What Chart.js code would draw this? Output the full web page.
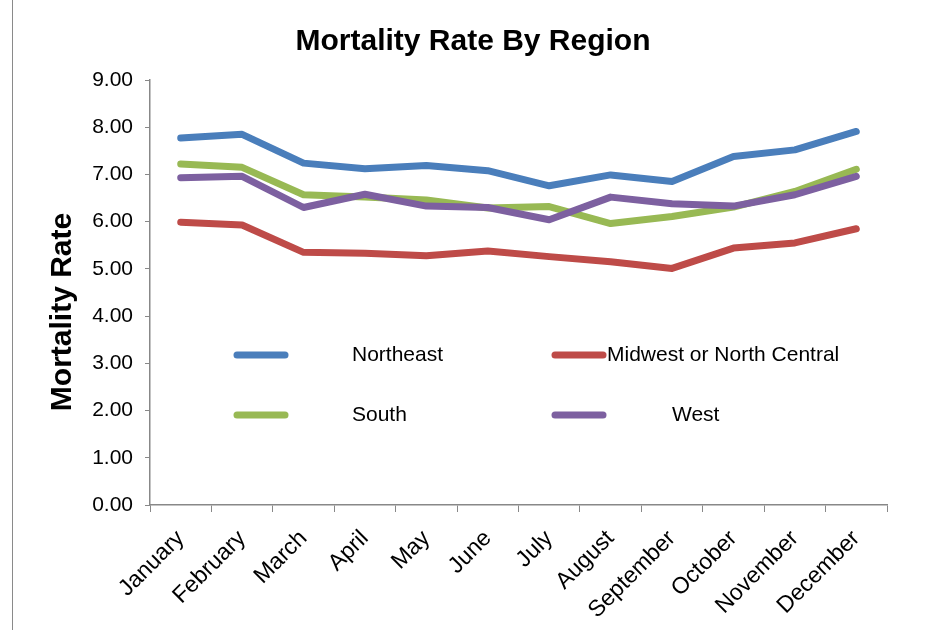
<!DOCTYPE html>
<html>
<head>
<meta charset="utf-8">
<script src="https://cdn.jsdelivr.net/npm/chart.js@4.4.0/dist/chart.umd.min.js"></script>
<style>
    body { margin: 0; background: #fff; }
    #wrap { position: relative; width: 933px; height: 630px; }
    #edge { position: absolute; left: 12px; top: 0; height: 630px; border-left: 1px solid #8a8a8a; }
</style>
</head>
<body>
<div id="wrap">
    <canvas id="mortalityChart" width="933" height="630"></canvas>
    <div id="edge"></div>
</div>
<script>
// data
const months = ['January', 'February', 'March', 'April', 'May', 'June',
                'July', 'August', 'September', 'October', 'November', 'December'];
const northeast = [7.77, 7.85, 7.24, 7.12, 7.19, 7.08, 6.76, 6.99, 6.85, 7.38, 7.52, 7.91];
const midwest   = [5.99, 5.93, 5.35, 5.33, 5.28, 5.38, 5.26, 5.15, 5.01, 5.44, 5.55, 5.85];
const south     = [7.22, 7.15, 6.57, 6.52, 6.46, 6.29, 6.32, 5.96, 6.11, 6.31, 6.64, 7.11];
const west      = [6.93, 6.96, 6.30, 6.58, 6.33, 6.30, 6.04, 6.52, 6.38, 6.33, 6.57, 6.96];
const regionNames = ['Northeast', 'Midwest or North Central', 'South', 'West'];
const regionColors = ['#4A7EBB', '#BE4B48', '#98B954', '#7D60A0'];
const yMin = 0;
const yMax = 9;
const yStep = 1;

const FONT = '"Liberation Sans", Arial, sans-serif';

// legend sits inside the plot, two rows of two
const legendSpots = [
    { lineX: 237, textX: 352, y: 355 },
    { lineX: 555, textX: 607, y: 355 },
    { lineX: 237, textX: 352, y: 415 },
    { lineX: 555, textX: 672, y: 415 }
];

const insideLegend = {
    id: 'insideLegend',
    afterDatasetsDraw(chart) {
        const ctx = chart.ctx;
        ctx.save();
        chart.data.datasets.forEach((ds, i) => {
            const spot = legendSpots[i];
            ctx.strokeStyle = ds.borderColor;
            ctx.lineWidth = 7;
            ctx.lineCap = 'round';
            ctx.beginPath();
            ctx.moveTo(spot.lineX, spot.y);
            ctx.lineTo(spot.lineX + 48, spot.y);
            ctx.stroke();
            ctx.fillStyle = '#000';
            ctx.font = '21px ' + FONT;
            ctx.textBaseline = 'middle';
            ctx.textAlign = 'left';
            ctx.fillText(ds.label, spot.textX, spot.y);
        });
        ctx.restore();
    }
};

// chart title and y axis title, placed by hand
const titles = {
    id: 'titles',
    afterDraw(chart) {
        const ctx = chart.ctx;
        ctx.save();
        ctx.fillStyle = '#000';
        ctx.textAlign = 'center';
        ctx.textBaseline = 'middle';
        ctx.font = 'bold 30px ' + FONT;
        ctx.fillText('Mortality Rate By Region', 473, 42);
        ctx.translate(63, 312);
        ctx.rotate(-Math.PI / 2);
        ctx.font = 'bold 30px ' + FONT;
        ctx.fillText('Mortality Rate', 0, 0);
        ctx.restore();
    }
};

const seriesData = [northeast, midwest, south, west];
const drawOrder = [3, 2, 1, 0];

const mortalityChart = new Chart(document.getElementById('mortalityChart').getContext('2d'), {
    type: 'line',
    data: {
        labels: months,
        datasets: seriesData.map((values, i) => ({
            label: regionNames[i],
            data: values,
            borderColor: regionColors[i],
            backgroundColor: regionColors[i],
            borderWidth: 7,
            borderCapStyle: 'round',
            borderJoinStyle: 'round',
            pointRadius: 0,
            tension: 0,
            order: drawOrder[i]
        }))
    },
    options: {
        responsive: false,
        animation: false,
        layout: {
            padding: { top: 80, left: 0, right: 46, bottom: 0 }
        },
        plugins: {
            legend: { display: false },
            tooltip: { enabled: false },
            title: { display: false }
        },
        scales: {
            x: {
                offset: true,
                afterFit: (scale) => { scale.height = 125; },
                grid: {
                    offset: true,
                    drawOnChartArea: false,
                    drawTicks: true,
                    tickLength: 7,
                    color: '#888'
                },
                border: { display: true, color: '#888', width: 1.5 },
                ticks: {
                    autoSkip: false,
                    maxRotation: 45,
                    minRotation: 45,
                    padding: 13,
                    color: '#000',
                    font: { family: FONT, size: 23 }
                }
            },
            y: {
                min: yMin,
                max: yMax,
                afterFit: (scale) => { scale.width = 150; },
                grid: {
                    drawOnChartArea: false,
                    drawTicks: true,
                    tickLength: 5,
                    color: '#888'
                },
                border: { display: true, color: '#888', width: 1.5 },
                ticks: {
                    stepSize: yStep,
                    padding: 12,
                    color: '#000',
                    font: { family: FONT, size: 21 },
                    callback: (value) => Number(value).toFixed(2)
                }
            }
        }
    },
    plugins: [insideLegend, titles]
});
</script>
</body>
</html>
